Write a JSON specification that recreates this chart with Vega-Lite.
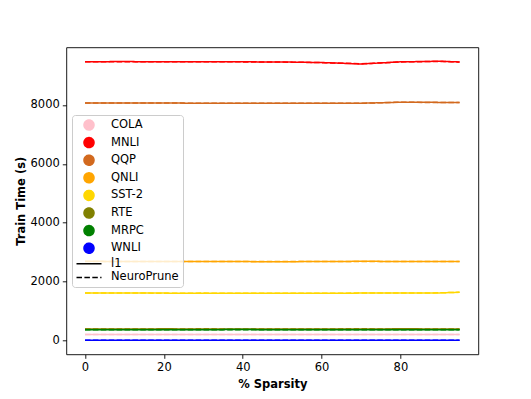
{
  "$schema": "https://vega.github.io/schema/vega-lite/v6.json",
  "width": 412,
  "height": 307,
  "autosize": {"type": "none"},
  "padding": {"left": 66.3, "top": 47.3, "right": 52.7, "bottom": 44.7},
  "background": "white",
  "config": {
    "font": "DejaVu Sans",
    "view": {"stroke": "black", "strokeWidth": 0.9},
    "axis": {
      "domain": false,
      "grid": false,
      "tickColor": "black",
      "tickSize": 4,
      "tickWidth": 0.9,
      "labelFont": "DejaVu Sans",
      "labelFontSize": 11.5,
      "labelColor": "black",
      "labelPadding": 3,
      "titleFont": "DejaVu Sans",
      "titleFontSize": 11.5,
      "titleFontWeight": "bold",
      "titleColor": "black"
    },
    "legend": {"labelFont": "DejaVu Sans", "labelFontSize": 11.5, "labelColor": "black"}
  },
  "data": {
    "values": [
      {"x": 0, "y": 205, "task": "COLA", "method": "l1"},
      {"x": 10, "y": 203, "task": "COLA", "method": "l1"},
      {"x": 20, "y": 206, "task": "COLA", "method": "l1"},
      {"x": 30, "y": 204, "task": "COLA", "method": "l1"},
      {"x": 40, "y": 205, "task": "COLA", "method": "l1"},
      {"x": 50, "y": 207, "task": "COLA", "method": "l1"},
      {"x": 60, "y": 204, "task": "COLA", "method": "l1"},
      {"x": 70, "y": 203, "task": "COLA", "method": "l1"},
      {"x": 80, "y": 206, "task": "COLA", "method": "l1"},
      {"x": 90, "y": 205, "task": "COLA", "method": "l1"},
      {"x": 95, "y": 204, "task": "COLA", "method": "l1"},
      {"x": 0, "y": 207, "task": "COLA", "method": "NeuroPrune"},
      {"x": 10, "y": 205, "task": "COLA", "method": "NeuroPrune"},
      {"x": 20, "y": 204, "task": "COLA", "method": "NeuroPrune"},
      {"x": 30, "y": 206, "task": "COLA", "method": "NeuroPrune"},
      {"x": 40, "y": 203, "task": "COLA", "method": "NeuroPrune"},
      {"x": 50, "y": 205, "task": "COLA", "method": "NeuroPrune"},
      {"x": 60, "y": 206, "task": "COLA", "method": "NeuroPrune"},
      {"x": 70, "y": 204, "task": "COLA", "method": "NeuroPrune"},
      {"x": 80, "y": 205, "task": "COLA", "method": "NeuroPrune"},
      {"x": 90, "y": 207, "task": "COLA", "method": "NeuroPrune"},
      {"x": 95, "y": 206, "task": "COLA", "method": "NeuroPrune"},
      {"x": 0, "y": 9470, "task": "MNLI", "method": "l1"},
      {"x": 10, "y": 9474, "task": "MNLI", "method": "l1"},
      {"x": 20, "y": 9468, "task": "MNLI", "method": "l1"},
      {"x": 30, "y": 9472, "task": "MNLI", "method": "l1"},
      {"x": 40, "y": 9466, "task": "MNLI", "method": "l1"},
      {"x": 50, "y": 9460, "task": "MNLI", "method": "l1"},
      {"x": 60, "y": 9442, "task": "MNLI", "method": "l1"},
      {"x": 70, "y": 9392, "task": "MNLI", "method": "l1"},
      {"x": 80, "y": 9465, "task": "MNLI", "method": "l1"},
      {"x": 90, "y": 9485, "task": "MNLI", "method": "l1"},
      {"x": 95, "y": 9462, "task": "MNLI", "method": "l1"},
      {"x": 0, "y": 9468, "task": "MNLI", "method": "NeuroPrune"},
      {"x": 10, "y": 9471, "task": "MNLI", "method": "NeuroPrune"},
      {"x": 20, "y": 9470, "task": "MNLI", "method": "NeuroPrune"},
      {"x": 30, "y": 9469, "task": "MNLI", "method": "NeuroPrune"},
      {"x": 40, "y": 9464, "task": "MNLI", "method": "NeuroPrune"},
      {"x": 50, "y": 9458, "task": "MNLI", "method": "NeuroPrune"},
      {"x": 60, "y": 9438, "task": "MNLI", "method": "NeuroPrune"},
      {"x": 70, "y": 9398, "task": "MNLI", "method": "NeuroPrune"},
      {"x": 80, "y": 9462, "task": "MNLI", "method": "NeuroPrune"},
      {"x": 90, "y": 9480, "task": "MNLI", "method": "NeuroPrune"},
      {"x": 95, "y": 9458, "task": "MNLI", "method": "NeuroPrune"},
      {"x": 0, "y": 8068, "task": "QQP", "method": "l1"},
      {"x": 10, "y": 8066, "task": "QQP", "method": "l1"},
      {"x": 20, "y": 8064, "task": "QQP", "method": "l1"},
      {"x": 30, "y": 8062, "task": "QQP", "method": "l1"},
      {"x": 40, "y": 8060, "task": "QQP", "method": "l1"},
      {"x": 50, "y": 8058, "task": "QQP", "method": "l1"},
      {"x": 60, "y": 8056, "task": "QQP", "method": "l1"},
      {"x": 70, "y": 8058, "task": "QQP", "method": "l1"},
      {"x": 80, "y": 8095, "task": "QQP", "method": "l1"},
      {"x": 90, "y": 8088, "task": "QQP", "method": "l1"},
      {"x": 95, "y": 8080, "task": "QQP", "method": "l1"},
      {"x": 0, "y": 8066, "task": "QQP", "method": "NeuroPrune"},
      {"x": 10, "y": 8064, "task": "QQP", "method": "NeuroPrune"},
      {"x": 20, "y": 8066, "task": "QQP", "method": "NeuroPrune"},
      {"x": 30, "y": 8060, "task": "QQP", "method": "NeuroPrune"},
      {"x": 40, "y": 8062, "task": "QQP", "method": "NeuroPrune"},
      {"x": 50, "y": 8056, "task": "QQP", "method": "NeuroPrune"},
      {"x": 60, "y": 8058, "task": "QQP", "method": "NeuroPrune"},
      {"x": 70, "y": 8060, "task": "QQP", "method": "NeuroPrune"},
      {"x": 80, "y": 8092, "task": "QQP", "method": "NeuroPrune"},
      {"x": 90, "y": 8085, "task": "QQP", "method": "NeuroPrune"},
      {"x": 95, "y": 8082, "task": "QQP", "method": "NeuroPrune"},
      {"x": 0, "y": 2690, "task": "QNLI", "method": "l1"},
      {"x": 10, "y": 2686, "task": "QNLI", "method": "l1"},
      {"x": 20, "y": 2688, "task": "QNLI", "method": "l1"},
      {"x": 30, "y": 2684, "task": "QNLI", "method": "l1"},
      {"x": 40, "y": 2680, "task": "QNLI", "method": "l1"},
      {"x": 50, "y": 2678, "task": "QNLI", "method": "l1"},
      {"x": 60, "y": 2682, "task": "QNLI", "method": "l1"},
      {"x": 70, "y": 2690, "task": "QNLI", "method": "l1"},
      {"x": 80, "y": 2686, "task": "QNLI", "method": "l1"},
      {"x": 90, "y": 2680, "task": "QNLI", "method": "l1"},
      {"x": 95, "y": 2688, "task": "QNLI", "method": "l1"},
      {"x": 0, "y": 2688, "task": "QNLI", "method": "NeuroPrune"},
      {"x": 10, "y": 2688, "task": "QNLI", "method": "NeuroPrune"},
      {"x": 20, "y": 2684, "task": "QNLI", "method": "NeuroPrune"},
      {"x": 30, "y": 2686, "task": "QNLI", "method": "NeuroPrune"},
      {"x": 40, "y": 2682, "task": "QNLI", "method": "NeuroPrune"},
      {"x": 50, "y": 2680, "task": "QNLI", "method": "NeuroPrune"},
      {"x": 60, "y": 2680, "task": "QNLI", "method": "NeuroPrune"},
      {"x": 70, "y": 2688, "task": "QNLI", "method": "NeuroPrune"},
      {"x": 80, "y": 2684, "task": "QNLI", "method": "NeuroPrune"},
      {"x": 90, "y": 2682, "task": "QNLI", "method": "NeuroPrune"},
      {"x": 95, "y": 2686, "task": "QNLI", "method": "NeuroPrune"},
      {"x": 0, "y": 1615, "task": "SST-2", "method": "l1"},
      {"x": 10, "y": 1612, "task": "SST-2", "method": "l1"},
      {"x": 20, "y": 1610, "task": "SST-2", "method": "l1"},
      {"x": 30, "y": 1608, "task": "SST-2", "method": "l1"},
      {"x": 40, "y": 1606, "task": "SST-2", "method": "l1"},
      {"x": 50, "y": 1605, "task": "SST-2", "method": "l1"},
      {"x": 60, "y": 1607, "task": "SST-2", "method": "l1"},
      {"x": 70, "y": 1610, "task": "SST-2", "method": "l1"},
      {"x": 80, "y": 1612, "task": "SST-2", "method": "l1"},
      {"x": 90, "y": 1618, "task": "SST-2", "method": "l1"},
      {"x": 95, "y": 1640, "task": "SST-2", "method": "l1"},
      {"x": 0, "y": 1613, "task": "SST-2", "method": "NeuroPrune"},
      {"x": 10, "y": 1614, "task": "SST-2", "method": "NeuroPrune"},
      {"x": 20, "y": 1608, "task": "SST-2", "method": "NeuroPrune"},
      {"x": 30, "y": 1610, "task": "SST-2", "method": "NeuroPrune"},
      {"x": 40, "y": 1604, "task": "SST-2", "method": "NeuroPrune"},
      {"x": 50, "y": 1607, "task": "SST-2", "method": "NeuroPrune"},
      {"x": 60, "y": 1605, "task": "SST-2", "method": "NeuroPrune"},
      {"x": 70, "y": 1612, "task": "SST-2", "method": "NeuroPrune"},
      {"x": 80, "y": 1610, "task": "SST-2", "method": "NeuroPrune"},
      {"x": 90, "y": 1620, "task": "SST-2", "method": "NeuroPrune"},
      {"x": 95, "y": 1638, "task": "SST-2", "method": "NeuroPrune"},
      {"x": 0, "y": 395, "task": "RTE", "method": "l1"},
      {"x": 10, "y": 393, "task": "RTE", "method": "l1"},
      {"x": 20, "y": 396, "task": "RTE", "method": "l1"},
      {"x": 30, "y": 394, "task": "RTE", "method": "l1"},
      {"x": 40, "y": 392, "task": "RTE", "method": "l1"},
      {"x": 50, "y": 395, "task": "RTE", "method": "l1"},
      {"x": 60, "y": 393, "task": "RTE", "method": "l1"},
      {"x": 70, "y": 394, "task": "RTE", "method": "l1"},
      {"x": 80, "y": 396, "task": "RTE", "method": "l1"},
      {"x": 90, "y": 395, "task": "RTE", "method": "l1"},
      {"x": 95, "y": 394, "task": "RTE", "method": "l1"},
      {"x": 0, "y": 393, "task": "RTE", "method": "NeuroPrune"},
      {"x": 10, "y": 395, "task": "RTE", "method": "NeuroPrune"},
      {"x": 20, "y": 394, "task": "RTE", "method": "NeuroPrune"},
      {"x": 30, "y": 396, "task": "RTE", "method": "NeuroPrune"},
      {"x": 40, "y": 394, "task": "RTE", "method": "NeuroPrune"},
      {"x": 50, "y": 393, "task": "RTE", "method": "NeuroPrune"},
      {"x": 60, "y": 395, "task": "RTE", "method": "NeuroPrune"},
      {"x": 70, "y": 396, "task": "RTE", "method": "NeuroPrune"},
      {"x": 80, "y": 394, "task": "RTE", "method": "NeuroPrune"},
      {"x": 90, "y": 393, "task": "RTE", "method": "NeuroPrune"},
      {"x": 95, "y": 395, "task": "RTE", "method": "NeuroPrune"},
      {"x": 0, "y": 368, "task": "MRPC", "method": "l1"},
      {"x": 10, "y": 370, "task": "MRPC", "method": "l1"},
      {"x": 20, "y": 367, "task": "MRPC", "method": "l1"},
      {"x": 30, "y": 369, "task": "MRPC", "method": "l1"},
      {"x": 40, "y": 371, "task": "MRPC", "method": "l1"},
      {"x": 50, "y": 368, "task": "MRPC", "method": "l1"},
      {"x": 60, "y": 370, "task": "MRPC", "method": "l1"},
      {"x": 70, "y": 369, "task": "MRPC", "method": "l1"},
      {"x": 80, "y": 367, "task": "MRPC", "method": "l1"},
      {"x": 90, "y": 370, "task": "MRPC", "method": "l1"},
      {"x": 95, "y": 368, "task": "MRPC", "method": "l1"},
      {"x": 0, "y": 370, "task": "MRPC", "method": "NeuroPrune"},
      {"x": 10, "y": 368, "task": "MRPC", "method": "NeuroPrune"},
      {"x": 20, "y": 369, "task": "MRPC", "method": "NeuroPrune"},
      {"x": 30, "y": 367, "task": "MRPC", "method": "NeuroPrune"},
      {"x": 40, "y": 369, "task": "MRPC", "method": "NeuroPrune"},
      {"x": 50, "y": 370, "task": "MRPC", "method": "NeuroPrune"},
      {"x": 60, "y": 368, "task": "MRPC", "method": "NeuroPrune"},
      {"x": 70, "y": 367, "task": "MRPC", "method": "NeuroPrune"},
      {"x": 80, "y": 369, "task": "MRPC", "method": "NeuroPrune"},
      {"x": 90, "y": 368, "task": "MRPC", "method": "NeuroPrune"},
      {"x": 95, "y": 370, "task": "MRPC", "method": "NeuroPrune"},
      {"x": 0, "y": 12, "task": "WNLI", "method": "l1"},
      {"x": 10, "y": 10, "task": "WNLI", "method": "l1"},
      {"x": 20, "y": 11, "task": "WNLI", "method": "l1"},
      {"x": 30, "y": 9, "task": "WNLI", "method": "l1"},
      {"x": 40, "y": 10, "task": "WNLI", "method": "l1"},
      {"x": 50, "y": 12, "task": "WNLI", "method": "l1"},
      {"x": 60, "y": 11, "task": "WNLI", "method": "l1"},
      {"x": 70, "y": 10, "task": "WNLI", "method": "l1"},
      {"x": 80, "y": 9, "task": "WNLI", "method": "l1"},
      {"x": 90, "y": 11, "task": "WNLI", "method": "l1"},
      {"x": 95, "y": 10, "task": "WNLI", "method": "l1"},
      {"x": 0, "y": 10, "task": "WNLI", "method": "NeuroPrune"},
      {"x": 10, "y": 11, "task": "WNLI", "method": "NeuroPrune"},
      {"x": 20, "y": 9, "task": "WNLI", "method": "NeuroPrune"},
      {"x": 30, "y": 11, "task": "WNLI", "method": "NeuroPrune"},
      {"x": 40, "y": 12, "task": "WNLI", "method": "NeuroPrune"},
      {"x": 50, "y": 10, "task": "WNLI", "method": "NeuroPrune"},
      {"x": 60, "y": 9, "task": "WNLI", "method": "NeuroPrune"},
      {"x": 70, "y": 11, "task": "WNLI", "method": "NeuroPrune"},
      {"x": 80, "y": 10, "task": "WNLI", "method": "NeuroPrune"},
      {"x": 90, "y": 12, "task": "WNLI", "method": "NeuroPrune"},
      {"x": 95, "y": 11, "task": "WNLI", "method": "NeuroPrune"}
    ]
  },
  "mark": {"type": "line", "strokeWidth": 1.5, "clip": true},
  "encoding": {
    "x": {
      "field": "x",
      "type": "quantitative",
      "scale": {"domain": [-4.75, 99.75], "nice": false, "zero": false},
      "axis": {"values": [0, 20, 40, 60, 80], "format": "d", "title": "% Sparsity", "titlePadding": 6}
    },
    "y": {
      "field": "y",
      "type": "quantitative",
      "scale": {"domain": [-468, 9959], "nice": false, "zero": false},
      "axis": {"values": [0, 2000, 4000, 6000, 8000], "format": "d", "title": "Train Time (s)", "titlePadding": 4}
    },
    "color": {
      "field": "task",
      "type": "nominal",
      "scale": {
        "domain": ["COLA", "MNLI", "QQP", "QNLI", "SST-2", "RTE", "MRPC", "WNLI", "l1", "NeuroPrune"],
        "range": ["#FFC0CB", "#FF0000", "#D2691E", "#FFA500", "#FFD700", "#808000", "#008000", "#0000FF", "#000000", "#000000"]
      },
      "legend": {
        "orient": "none",
        "legendX": 5.7,
        "legendY": 67.7,
        "title": null,
        "values": ["COLA", "MNLI", "QQP", "QNLI", "SST-2", "RTE", "MRPC", "WNLI", "l1", "NeuroPrune"],
        "fillColor": "rgba(255,255,255,0.8)",
        "strokeColor": "#cccccc",
        "cornerRadius": 3,
        "padding": 4,
        "rowPadding": 1.6,
        "symbolOffset": 7,
        "labelOffset": 16,
        "symbolSize": 100,
        "encode": {
          "symbols": {
            "update": {
              "shape": {"signal": "indexof(['l1','NeuroPrune'], datum.value) >= 0 ? 'stroke' : 'circle'"},
              "size": {"signal": "indexof(['l1','NeuroPrune'], datum.value) >= 0 ? 625 : 100"},
              "fill": {"signal": "indexof(['l1','NeuroPrune'], datum.value) >= 0 ? 'transparent' : scale('color', datum.value)"},
              "stroke": {"signal": "indexof(['l1','NeuroPrune'], datum.value) >= 0 ? 'black' : 'transparent'"},
              "strokeWidth": {"value": 1.5},
              "strokeDash": {"signal": "datum.value == 'NeuroPrune' ? [5.5, 2.4] : [1, 0]"},
              "opacity": {"value": 1}
            }
          }
        }
      }
    },
    "strokeDash": {
      "field": "method",
      "type": "nominal",
      "scale": {"domain": ["l1", "NeuroPrune"], "range": [[1, 0], [5.5, 2.4]]},
      "legend": null
    },
    "detail": {"field": "method"}
  }
}
